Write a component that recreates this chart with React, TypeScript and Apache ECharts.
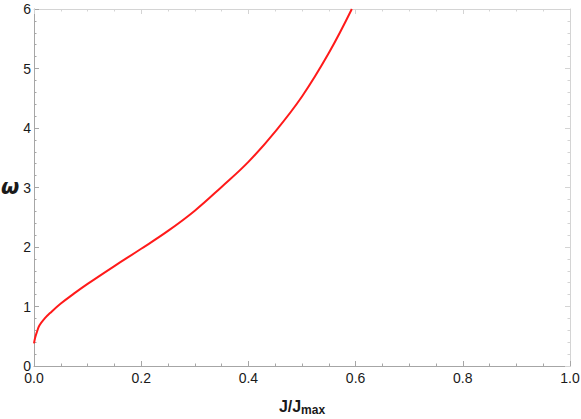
import React, { useEffect, useRef } from "react";
import * as echarts from "echarts";

const jValues = [0, 0.002, 0.005, 0.01, 0.02, 0.03, 0.05, 0.075, 0.1, 0.15, 0.2, 0.25, 0.3, 0.35, 0.4, 0.45, 0.5, 0.55, 0.593];
const omegaValues = [0.38, 0.47, 0.56, 0.68, 0.8, 0.89, 1.05, 1.22, 1.38, 1.68, 1.97, 2.27, 2.61, 3.01, 3.43, 3.94, 4.53, 5.26, 6.0];
const xTicks = [0, 0.2, 0.4, 0.6, 0.8, 1.0];
const yTicks = [0, 1, 2, 3, 4, 5, 6];

const FONT = "Liberation Sans, Arial, sans-serif";

export default function App() {
  const ref = useRef<HTMLDivElement>(null);
  useEffect(() => {
    if (!ref.current) return;
    const chart = echarts.init(ref.current, undefined, { renderer: "svg" });
    const data = jValues.map((j, i) => [j, omegaValues[i]]);
    const dark = "#a6a6a6";
    const light = "#d4d4d4";
    const baseAxis = (color: string) => ({
      axisLine: { show: true, onZero: false, lineStyle: { color, width: 1 } },
      axisTick: { show: true, inside: true, length: 5, lineStyle: { color, width: 1 } },
      minorTick: { show: true, splitNumber: 4, length: 2.5, lineStyle: { color, width: 1 } },
      splitLine: { show: false },
      minorSplitLine: { show: false },
    });
    chart.setOption({
      animation: false,
      backgroundColor: "#ffffff",
      grid: { left: 34, right: 11, top: 9, bottom: 53, containLabel: false, outerBoundsMode: "none" },
      graphic: [
        {
          type: "text",
          left: 1,
          top: 176,
          style: {
            text: "ω",
            fontSize: 21,
            fontWeight: "bold",
            fontStyle: "italic",
            fontFamily: "DejaVu Sans, sans-serif",
            fill: "#1a1a1a",
          },
        },
      ],
      xAxis: [
        {
          type: "value",
          position: "bottom",
          min: xTicks[0],
          max: xTicks[xTicks.length - 1],
          interval: 0.2,
          ...baseAxis(dark),
          axisLabel: {
            color: "#1a1a1a",
            fontSize: 14,
            fontFamily: FONT,
            margin: 5,
            formatter: (v: number) => v.toFixed(1),
          },
          name: "{b|J/J}{s|max}",
          nameLocation: "middle",
          nameGap: 31,
          nameTextStyle: {
            rich: {
              b: { fontSize: 16, fontWeight: "bold", fontFamily: FONT, color: "#1a1a1a", lineHeight: 18 },
              s: { fontSize: 12, fontWeight: "bold", fontFamily: FONT, color: "#1a1a1a", padding: [7, 0, 0, 0], lineHeight: 18 },
            },
          },
        },
        {
          type: "value",
          position: "top",
          min: xTicks[0],
          max: xTicks[xTicks.length - 1],
          interval: 0.2,
          ...baseAxis(light),
          axisLabel: { show: false },
        },
      ],
      yAxis: [
        {
          type: "value",
          position: "left",
          min: yTicks[0],
          max: yTicks[yTicks.length - 1],
          interval: 1,
          ...baseAxis(dark),
          minorTick: { show: true, splitNumber: 5, length: 2.5, lineStyle: { color: dark, width: 1 } },
          axisLabel: { color: "#1a1a1a", fontSize: 14, fontFamily: FONT, margin: 3 },
        },
        {
          type: "value",
          position: "right",
          min: yTicks[0],
          max: yTicks[yTicks.length - 1],
          interval: 1,
          ...baseAxis(light),
          minorTick: { show: true, splitNumber: 5, length: 2.5, lineStyle: { color: light, width: 1 } },
          axisLabel: { show: false },
        },
      ],
      series: [
        {
          type: "line",
          data,
          smooth: 0.4,
          showSymbol: false,
          clip: true,
          lineStyle: { color: "#ff1a1a", width: 2 },
        },
      ],
    });
    return () => chart.dispose();
  }, []);
  return <div ref={ref} style={{ width: 581, height: 419, position: "absolute", left: 0, top: 0 }} />;
}
